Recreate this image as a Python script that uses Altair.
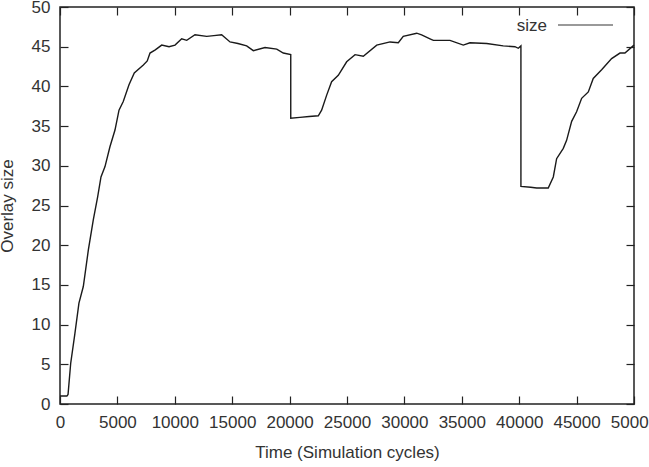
import altair as alt
import pandas as pd

time_cycles = [0, 600, 700, 930, 1300, 1650, 2030, 2470, 2900, 3280, 3570, 3920, 4350, 4790,
               5140, 5510, 6010, 6470, 7260, 7600, 7840, 8300, 8860, 9500, 10020, 10600, 11040,
               11760, 12780, 13400, 14080, 14810, 15500, 16260, 16840, 17860, 18880, 19450,
               20100, 20100, 20900, 21700, 22500, 22790, 23230, 23660, 24240, 24970, 25700,
               26420, 27590, 28750, 29470, 29900, 31070, 31500, 32230, 32520, 33970, 35130,
               35710, 37170, 38610, 39630, 39920, 40150, 40150, 41000, 41520, 42530, 42970,
               43260, 43840, 44130, 44570, 45000, 45440, 46020, 46450, 47180, 48050, 48780,
               49210, 50000]
overlay_size = [1.0, 1.0, 1.2, 5.1, 8.9, 12.7, 14.8, 19.4, 23.2, 26.1, 28.6, 29.9, 32.4, 34.5,
                37.0, 38.1, 40.2, 41.7, 42.7, 43.2, 44.2, 44.6, 45.2, 45.0, 45.2, 46.0, 45.8,
                46.5, 46.3, 46.4, 46.5, 45.6, 45.4, 45.1, 44.5, 44.9, 44.7, 44.2,
                44.0, 36.0, 36.1, 36.2, 36.3, 37.0, 38.9, 40.6, 41.4, 43.1, 44.0,
                43.8, 45.2, 45.6, 45.5, 46.3, 46.7, 46.5, 46.0, 45.8, 45.8, 45.2,
                45.5, 45.4, 45.1, 45.0, 44.8, 45.1, 27.4, 27.3, 27.2, 27.2, 28.6,
                30.9, 32.2, 33.2, 35.6, 36.8, 38.5, 39.3, 41.0, 42.1, 43.5, 44.2,
                44.2, 45.2]
x_ticks = list(range(0, 50001, 5000))
y_ticks = list(range(0, 51, 5))
series_name = ["size"]

FONT = "Liberation Sans"
TXT = "#333333"
INK = "#222222"

df = pd.DataFrame({"t": time_cycles, "v": overlay_size, "i": list(range(len(time_cycles)))})
leg = pd.DataFrame({"name": series_name})

xs = alt.Scale(domain=[0, 50000], nice=False, zero=False)
ys = alt.Scale(domain=[0, 50], nice=False, zero=False)

common = dict(offset=-8, tickSize=8, domain=False, grid=False, tickColor=INK, tickWidth=1.2,
              labelFlush=False, labelOverlap=False, labelBound=False)

line = alt.Chart(df).mark_line(color="#1a1a1a", strokeWidth=1.4).encode(
    x=alt.X("t:Q", scale=xs, axis=alt.Axis(orient="bottom", values=x_ticks, format="d",
            title="Time (Simulation cycles)", labelPadding=10,
            labelFont=FONT, labelFontSize=17, labelColor=TXT, titleFont=FONT,
            titleFontSize=17, titleFontWeight="normal", titleColor=TXT, titlePadding=14,
            **common)),
    y=alt.Y("v:Q", scale=ys, axis=alt.Axis(orient="left", values=y_ticks, format="d",
            title="Overlay size", labelPadding=10,
            labelFont=FONT, labelFontSize=17, labelColor=TXT, titleFont=FONT,
            titleFontSize=17, titleFontWeight="normal", titleColor=TXT, titlePadding=15,
            **common)),
    order="i:Q",
)

mirror = alt.Chart(df).mark_line(opacity=0).encode(
    x=alt.X("t:Q", scale=xs, axis=alt.Axis(orient="top", values=x_ticks, labels=False,
            title="", **common)),
    y=alt.Y("v:Q", scale=ys, axis=alt.Axis(orient="right", values=y_ticks, labels=False,
            title="", **common)),
    order="i:Q",
)

leg_text = alt.Chart(leg).mark_text(align="right", baseline="middle", font=FONT,
                                    fontSize=17, color=TXT).encode(
    text="name:N", x=alt.value(487), y=alt.value(19))
leg_line = alt.Chart(leg).mark_rule(color="#777777", strokeWidth=1.6).encode(
    x=alt.value(498), x2=alt.value(553), y=alt.value(18))

chart = alt.layer(line, mirror, leg_text, leg_line).resolve_axis(
    x="independent", y="independent"
).properties(
    width=574, height=397,
    autosize=alt.AutoSizeParams(type="none"),
    padding={"left": 60, "top": 7, "right": 15, "bottom": 63},
    background="white",
).configure_view(stroke=INK, strokeWidth=1.5)

chart.save("out.html", embed_options={"renderer": "svg", "actions": False})
